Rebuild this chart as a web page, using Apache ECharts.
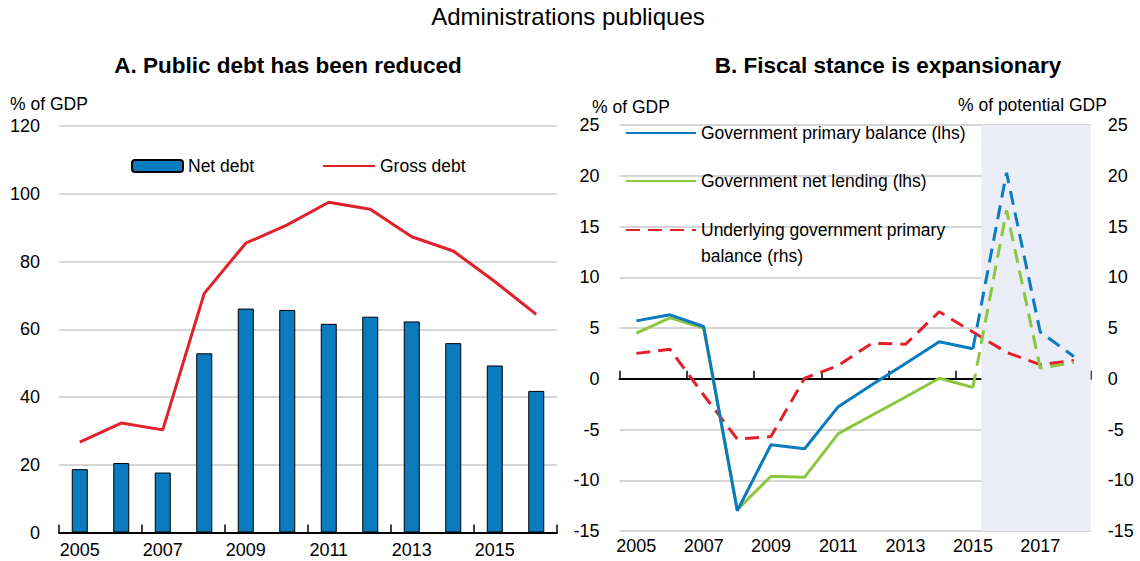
<!DOCTYPE html>
<html>
<head>
<meta charset="utf-8">
<script src="https://cdn.jsdelivr.net/npm/echarts@6/dist/echarts.min.js"></script>
<style>
html,body{margin:0;padding:0;background:#fff;}
#chart{width:1140px;height:561px;}
</style>
</head>
<body>
<div id="chart"></div>
<script>
// ---- Data ----
const yearsA = ['2005','2006','2007','2008','2009','2010','2011','2012','2013','2014','2015','2016'];
const netDebt = [18.7, 20.5, 17.7, 52.9, 66.1, 65.7, 61.6, 63.7, 62.3, 55.9, 49.3, 41.8];
const grossDebt = [26.7, 32.3, 30.3, 70.6, 85.4, 90.8, 97.5, 95.4, 87.3, 83.1, 74.1, 64.4];

const yearsB = ['2005','2006','2007','2008','2009','2010','2011','2012','2013','2014','2015','2016','2017','2018'];
const primaryBalance = [5.7, 6.3, 5.15, -13.0, -6.5, -6.9, -2.75, -0.6, 1.5, 3.65, 2.95, 20.3, 4.6, 2.2];
const netLending = [4.5, 6.0, 5.0, -12.9, -9.6, -9.7, -5.4, -3.6, -1.8, 0.05, -0.85, 16.6, 1.05, 1.6];
const underlyingBalance = [2.5, 2.9, -1.6, -5.95, -5.7, 0.05, 1.3, 3.5, 3.4, 6.6, 4.6, 2.6, 1.4, 1.8];
const projectionFromIndex = 10;   // 2015: last observed year, dashes start here
const projectionShadeStart = 2015.25;
const projectionShadeEnd = 2018.5;

// ---- Helpers ----
const solidPart = arr => arr.map((v, i) => i <= projectionFromIndex ? v : null);
const dashedPart = arr => arr.map((v, i) => i >= projectionFromIndex ? v : null);

const FONT = '"Liberation Sans", Arial, sans-serif';
const BLUE = '#0b7bc0';
const GREEN = '#8cc63e';
const RED = '#e2202b';
const GRID = '#c8c8c8';

const chart = echarts.init(document.getElementById('chart'), null, {renderer: 'svg'});

const txt = {fontFamily: FONT, fontSize: 17.5, color: '#000', lineHeight: 22};
const tick = {fontFamily: FONT, fontSize: 18, color: '#000'};
const lineLegend = {padding: 0, itemWidth: 70, itemHeight: 14, itemStyle: {opacity: 0},
                    textStyle: Object.assign({}, txt)};

const option = {
  backgroundColor: '#fff',
  animation: false,
  title: [
    {text: 'Administrations publiques', left: 568, top: 4, textAlign: 'center', padding: 0,
     textStyle: {fontFamily: FONT, fontSize: 24, fontWeight: 'normal', color: '#000'}},
    {text: 'A. Public debt has been reduced', left: 288, top: 54, textAlign: 'center', padding: 0,
     textStyle: {fontFamily: FONT, fontSize: 22.5, fontWeight: 'bold', color: '#000'}},
    {text: 'B. Fiscal stance is expansionary', left: 888, top: 54, textAlign: 'center', padding: 0,
     textStyle: {fontFamily: FONT, fontSize: 22.5, fontWeight: 'bold', color: '#000'}},
    {text: '% of GDP', left: 10, top: 93, padding: 0, textStyle: Object.assign({}, txt, {fontWeight: 'normal'})},
    {text: '% of GDP', left: 592, top: 96, padding: 0, textStyle: Object.assign({}, txt, {fontWeight: 'normal'})},
    {text: '% of potential GDP', left: 958, top: 94, padding: 0, textStyle: Object.assign({}, txt, {fontWeight: 'normal'})}
  ],
  legend: [
    {data: ['Net debt'], left: 131, top: 155, padding: 0, itemWidth: 51, itemHeight: 12,
     textStyle: Object.assign({}, txt)},
    Object.assign({data: ['Gross debt'], left: 322, top: 155}, lineLegend, {itemWidth: 52}),
    Object.assign({data: ['Government primary balance (lhs)'], left: 625, top: 122}, lineLegend),
    Object.assign({data: ['Government net lending (lhs)'], left: 625, top: 170}, lineLegend),
    Object.assign({data: ['Underlying government primary balance (rhs)'], left: 625, top: 191,
      formatter: () => '\nUnderlying government primary\nbalance (rhs)'}, lineLegend,
      {textStyle: Object.assign({}, txt, {lineHeight: 26})})
  ],
  grid: [
    {left: 59, right: 1140 - 557, top: 126, bottom: 561 - 532.5},
    {left: 619.5, right: 1140 - 1090.7, top: 125, bottom: 561 - 531}
  ],
  xAxis: [
    {type: 'category', gridIndex: 0, data: yearsA, boundaryGap: true,
     axisLine: {show: true, lineStyle: {color: '#000', width: 2}},
     axisTick: {show: true, inside: true, length: 8, lineStyle: {color: '#000', width: 1.5}},
     axisLabel: {interval: 1, margin: 8, ...tick},
     splitLine: {show: false}},
    {type: 'category', gridIndex: 1, data: yearsB, boundaryGap: true,
     axisLine: {show: true, onZero: true, lineStyle: {color: '#000', width: 2}},
     axisTick: {show: true, inside: true, length: 8, lineStyle: {color: '#000', width: 1.5}},
     axisLabel: {show: false},
     splitLine: {show: false}},
    {type: 'category', gridIndex: 1, data: yearsB, boundaryGap: true, position: 'bottom',
     axisLine: {show: false, onZero: false}, axisTick: {show: false},
     axisLabel: {interval: 1, margin: 6, ...tick},
     splitLine: {show: false}},
    {type: 'value', gridIndex: 1, min: 2004.5, max: 2018.5, show: false}
  ],
  yAxis: [
    {type: 'value', gridIndex: 0, min: 0, max: 120, interval: 20,
     axisLine: {show: false}, axisTick: {show: false},
     axisLabel: {margin: 19, ...tick},
     splitLine: {show: true, lineStyle: {color: GRID, width: 1.5}}},
    {type: 'value', gridIndex: 1, min: -15, max: 25, interval: 5, position: 'left',
     axisLine: {show: false}, axisTick: {show: false},
     axisLabel: {margin: 20, ...tick},
     splitLine: {show: true, lineStyle: {color: GRID, width: 1.5}}},
    {type: 'value', gridIndex: 1, min: -15, max: 25, interval: 5, position: 'right',
     axisLine: {show: false}, axisTick: {show: false},
     axisLabel: {margin: 17, ...tick},
     splitLine: {show: false}}
  ],
  series: [
    {name: 'Net debt', type: 'bar', xAxisIndex: 0, yAxisIndex: 0, data: netDebt, barWidth: 16,
     itemStyle: {color: BLUE, borderColor: '#000', borderWidth: 1}},
    {name: 'Gross debt', type: 'line', xAxisIndex: 0, yAxisIndex: 0, data: grossDebt, symbol: 'none',
     lineStyle: {color: RED, width: 3}, itemStyle: {color: RED}},
    {name: 'projection-shade', type: 'line', xAxisIndex: 3, yAxisIndex: 1, data: [], z: -1, silent: true,
     markArea: {silent: true, itemStyle: {color: '#eaedf5'},
       data: [[{xAxis: projectionShadeStart}, {xAxis: projectionShadeEnd}]]}},
    {name: 'Underlying government primary balance (rhs)', type: 'line', xAxisIndex: 1, yAxisIndex: 2,
     data: underlyingBalance, symbol: 'none',
     lineStyle: {color: RED, width: 3, type: [14, 8]}, itemStyle: {color: RED}},
    {name: 'Government net lending (lhs)', type: 'line', xAxisIndex: 1, yAxisIndex: 1,
     data: solidPart(netLending), symbol: 'none',
     lineStyle: {color: GREEN, width: 3}, itemStyle: {color: GREEN}},
    {name: 'Government primary balance (lhs)', type: 'line', xAxisIndex: 1, yAxisIndex: 1,
     data: solidPart(primaryBalance), symbol: 'none',
     lineStyle: {color: BLUE, width: 3}, itemStyle: {color: BLUE}},
    {name: 'net lending projection', type: 'line', xAxisIndex: 1, yAxisIndex: 1,
     data: dashedPart(netLending), symbol: 'none',
     lineStyle: {color: GREEN, width: 3, type: [14, 8]}, itemStyle: {color: GREEN}},
    {name: 'primary balance projection', type: 'line', xAxisIndex: 1, yAxisIndex: 1,
     data: dashedPart(primaryBalance), symbol: 'none',
     lineStyle: {color: BLUE, width: 3, type: [14, 8]}, itemStyle: {color: BLUE}}
  ]
};
chart.setOption(option);
</script>
</body>
</html>
